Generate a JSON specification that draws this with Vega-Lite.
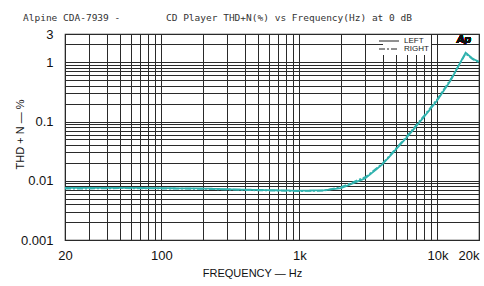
{
  "$schema": "https://vega.github.io/schema/vega-lite/v6.json",
  "width": 414,
  "height": 206,
  "autosize": {"type": "none"},
  "padding": {"left": 65, "top": 34, "right": 5, "bottom": 46},
  "background": "white",
  "title": {
    "text": "Alpine CDA-7939 -\u00a0\u00a0\u00a0\u00a0\u00a0\u00a0\u00a0\u00a0CD Player THD+N(%) vs Frequency(Hz) at 0 dB",
    "font": "DejaVu Sans Mono",
    "fontSize": 9.5,
    "fontWeight": "normal",
    "color": "#333333",
    "anchor": "start",
    "frame": "group",
    "dx": -42,
    "dy": 4,
    "offset": 5,
    "baseline": "middle"
  },
  "config": {
    "view": {"stroke": "#222222", "strokeWidth": 1.2},
    "axis": {
      "gridColor": "#2a2a2a",
      "gridWidth": 1,
      "gridOpacity": 1,
      "ticks": false,
      "domain": false,
      "labelFont": "Liberation Sans",
      "labelFontSize": 13,
      "labelColor": "#111111",
      "titleFont": "Liberation Sans",
      "titleFontSize": 11,
      "titleFontWeight": "normal",
      "titleColor": "#111111"
    }
  },
  "data": {
    "values": [
      {"f": 20, "v": 0.0076, "ch": "LEFT"},
      {"f": 30, "v": 0.0076, "ch": "LEFT"},
      {"f": 50, "v": 0.0076, "ch": "LEFT"},
      {"f": 100, "v": 0.0075, "ch": "LEFT"},
      {"f": 200, "v": 0.0074, "ch": "LEFT"},
      {"f": 300, "v": 0.0072, "ch": "LEFT"},
      {"f": 500, "v": 0.0070, "ch": "LEFT"},
      {"f": 1000, "v": 0.0068, "ch": "LEFT"},
      {"f": 1500, "v": 0.0069, "ch": "LEFT"},
      {"f": 2000, "v": 0.0075, "ch": "LEFT"},
      {"f": 3000, "v": 0.0110, "ch": "LEFT"},
      {"f": 4000, "v": 0.0190, "ch": "LEFT"},
      {"f": 6000, "v": 0.054, "ch": "LEFT"},
      {"f": 8000, "v": 0.12, "ch": "LEFT"},
      {"f": 10000, "v": 0.23, "ch": "LEFT"},
      {"f": 12500, "v": 0.50, "ch": "LEFT"},
      {"f": 16000, "v": 1.45, "ch": "LEFT"},
      {"f": 18000, "v": 1.15, "ch": "LEFT"},
      {"f": 20000, "v": 1.02, "ch": "LEFT"},
      {"f": 20, "v": 0.0074, "ch": "RIGHT"},
      {"f": 30, "v": 0.0074, "ch": "RIGHT"},
      {"f": 50, "v": 0.0075, "ch": "RIGHT"},
      {"f": 100, "v": 0.0074, "ch": "RIGHT"},
      {"f": 200, "v": 0.0073, "ch": "RIGHT"},
      {"f": 300, "v": 0.0071, "ch": "RIGHT"},
      {"f": 500, "v": 0.0069, "ch": "RIGHT"},
      {"f": 1000, "v": 0.0067, "ch": "RIGHT"},
      {"f": 1500, "v": 0.0068, "ch": "RIGHT"},
      {"f": 2000, "v": 0.0078, "ch": "RIGHT"},
      {"f": 3000, "v": 0.0115, "ch": "RIGHT"},
      {"f": 4000, "v": 0.0195, "ch": "RIGHT"},
      {"f": 6000, "v": 0.056, "ch": "RIGHT"},
      {"f": 8000, "v": 0.125, "ch": "RIGHT"},
      {"f": 10000, "v": 0.24, "ch": "RIGHT"},
      {"f": 12500, "v": 0.52, "ch": "RIGHT"},
      {"f": 16000, "v": 1.40, "ch": "RIGHT"},
      {"f": 18000, "v": 1.12, "ch": "RIGHT"},
      {"f": 20000, "v": 1.0, "ch": "RIGHT"}
    ]
  },
  "layer": [
    {
      "mark": {"type": "line", "color": "#30b2ae", "strokeWidth": 1.8, "clip": true},
      "encoding": {
        "x": {
          "field": "f",
          "type": "quantitative",
          "scale": {"type": "log", "domain": [20, 20000], "nice": false},
          "axis": {
            "title": "FREQUENCY — Hz",
            "titleX": 187,
            "titleY": 33,
            "titleBaseline": "middle",
            "labelPadding": 9,
            "values": [20, 30, 40, 50, 60, 70, 80, 90, 100, 200, 300, 400, 500, 600, 700, 800, 900, 1000, 2000, 3000, 4000, 5000, 6000, 7000, 8000, 9000, 10000, 20000],
            "labelExpr": "datum.value == 20 ? '20' : datum.value == 100 ? '100' : datum.value == 1000 ? '1k' : datum.value == 10000 ? '10k' : datum.value == 20000 ? '20k' : ''",
            "labelAlign": {"condition": {"test": "datum.value == 20000", "value": "right"}, "value": "center"},
            "labelOverlap": false
          }
        },
        "y": {
          "field": "v",
          "type": "quantitative",
          "scale": {"type": "log", "domain": [0.001, 3], "nice": false},
          "axis": {
            "title": "THD + N — %",
            "titleX": -45,
            "titleY": 100,
            "titleAngle": -90,
            "titleAlign": "center",
            "titleBaseline": "middle",
            "labelPadding": 12,
            "values": [0.001, 0.002, 0.003, 0.004, 0.005, 0.006, 0.007, 0.008, 0.009, 0.01, 0.02, 0.03, 0.04, 0.05, 0.06, 0.07, 0.08, 0.09, 0.1, 0.2, 0.3, 0.4, 0.5, 0.6, 0.7, 0.8, 0.9, 1, 2, 3],
            "labelExpr": "datum.value == 3 ? '3' : datum.value == 1 ? '1' : datum.value == 0.1 ? '0.1' : datum.value == 0.01 ? '0.01' : datum.value == 0.001 ? '0.001' : ''",
            "labelOverlap": false
          }
        },
        "strokeDash": {
          "field": "ch",
          "type": "nominal",
          "scale": {"domain": ["LEFT", "RIGHT"], "range": [[1, 0], [6, 2, 2, 2]]},
          "legend": {
            "title": null,
            "orient": "none",
            "legendX": 318,
            "legendY": 1,
            "fillColor": "white",
            "padding": 2,
            "symbolType": "M-4,0H4",
            "symbolSize": 25,
            "symbolStrokeColor": "#222222",
            "symbolStrokeWidth": 1,
            "labelFont": "Liberation Sans",
            "labelFontSize": 8,
            "labelColor": "#222222",
            "labelOffset": 11,
            "rowPadding": 0,
            "symbolOffset": 0
          }
        }
      }
    },
    {
      "mark": {"type": "text", "text": "Ap", "font": "Liberation Sans", "fontSize": 11, "fontWeight": "bold", "fontStyle": "italic", "color": "#111111"},
      "encoding": {
        "x": {"datum": 15500, "type": "quantitative"},
        "y": {"datum": 2.4, "type": "quantitative"}
      }
    }
  ]
}
